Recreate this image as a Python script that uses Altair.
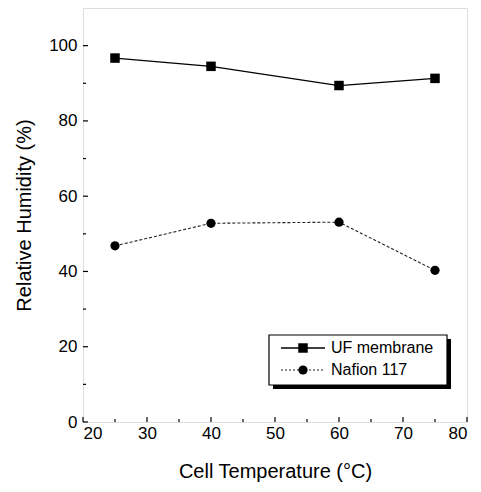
import altair as alt
import pandas as pd

temps = [25, 40, 60, 75]
uf_rh = [96.7, 94.5, 89.4, 91.3]
nafion_rh = [46.8, 52.8, 53.1, 40.3]

x_major = [20, 30, 40, 50, 60, 70, 80]
x_minor = [25, 35, 45, 55, 65, 75]
y_major = [0, 20, 40, 60, 80, 100]
y_minor = [10, 30, 50, 70, 90]

series_names = ["UF membrane", "Nafion 117"]

W, H = 384, 414
FONT = "Liberation Sans"

uf = pd.DataFrame({"T": temps, "RH": uf_rh})
naf = pd.DataFrame({"T": temps, "RH": nafion_rh})

xs = alt.Scale(domain=[20, 80], nice=False, zero=False)
ys = alt.Scale(domain=[0, 110], nice=False)

xax = alt.Axis(values=x_major, format="d", ticks=False, domain=False, grid=False,
               labelFontSize=17, labelFont=FONT, labelColor="black", labelPadding=3,
               title="Cell Temperature (°C)", titleFontSize=20, titleFont=FONT,
               titleFontWeight="normal", titleColor="black", titlePadding=20)
yax = alt.Axis(values=y_major, format="d", ticks=False, domain=False, grid=False,
               labelFontSize=17, labelFont=FONT, labelColor="black", labelPadding=6,
               title="Relative Humidity (%)", titleFontSize=20, titleFont=FONT,
               titleFontWeight="normal", titleColor="black", titlePadding=14)

base_x = alt.X("T:Q", scale=xs, axis=xax)
base_y = alt.Y("RH:Q", scale=ys, axis=yax)

uf_line = alt.Chart(uf).mark_line(color="black", strokeWidth=1.3).encode(x=base_x, y=base_y)
uf_pts = alt.Chart(uf).mark_point(shape="square", filled=True, color="black", size=90, opacity=1).encode(
    x=alt.X("T:Q", scale=xs), y=alt.Y("RH:Q", scale=ys))
naf_line = alt.Chart(naf).mark_line(color="#222", strokeWidth=1.1, strokeDash=[3, 2]).encode(
    x=alt.X("T:Q", scale=xs), y=alt.Y("RH:Q", scale=ys))
naf_pts = alt.Chart(naf).mark_point(shape="circle", filled=True, color="black", size=85, opacity=1).encode(
    x=alt.X("T:Q", scale=xs), y=alt.Y("RH:Q", scale=ys))

# inward ticks
xmaj_df = pd.DataFrame({"v": x_major})
xmin_df = pd.DataFrame({"v": x_minor})
ymaj_df = pd.DataFrame({"v": y_major})
ymin_df = pd.DataFrame({"v": y_minor})
tick_x_major = alt.Chart(xmaj_df).mark_rule(color="black", strokeWidth=1.2).encode(
    x=alt.X("v:Q", scale=xs), y=alt.value(H), y2=alt.value(H - 5))
tick_x_minor = alt.Chart(xmin_df).mark_rule(color="black", strokeWidth=1.2).encode(
    x=alt.X("v:Q", scale=xs), y=alt.value(H), y2=alt.value(H - 3))
tick_y_major = alt.Chart(ymaj_df).mark_rule(color="black", strokeWidth=1.2).encode(
    y=alt.Y("v:Q", scale=ys), x=alt.value(0), x2=alt.value(5))
tick_y_minor = alt.Chart(ymin_df).mark_rule(color="black", strokeWidth=1.2).encode(
    y=alt.Y("v:Q", scale=ys), x=alt.value(0), x2=alt.value(3))

# legend
lx0, ly0, lw, lh = 186, 327, 178, 50
leg_df = pd.DataFrame({"name": series_names})
shadow = alt.Chart(leg_df.head(1)).mark_rect(color="black").encode(
    x=alt.value(lx0 + 4), x2=alt.value(lx0 + lw + 4), y=alt.value(ly0 + 4), y2=alt.value(ly0 + lh + 4))
box = alt.Chart(leg_df.head(1)).mark_rect(fill="white", stroke="black", strokeWidth=1.2).encode(
    x=alt.value(lx0), x2=alt.value(lx0 + lw), y=alt.value(ly0), y2=alt.value(ly0 + lh))
leg_l1 = alt.Chart(leg_df.head(1)).mark_rule(color="black", strokeWidth=1.3).encode(
    x=alt.value(lx0 + 12), x2=alt.value(lx0 + 56), y=alt.value(ly0 + 13))
leg_l2 = alt.Chart(leg_df.head(1)).mark_rule(color="#222", strokeWidth=1.1, strokeDash=[2, 2]).encode(
    x=alt.value(lx0 + 12), x2=alt.value(lx0 + 56), y=alt.value(ly0 + 35))
leg_p1 = alt.Chart(leg_df.head(1)).mark_point(shape="square", filled=True, color="black", size=90, opacity=1).encode(
    x=alt.value(lx0 + 34), y=alt.value(ly0 + 13))
leg_p2 = alt.Chart(leg_df.head(1)).mark_point(shape="circle", filled=True, color="black", size=85, opacity=1).encode(
    x=alt.value(lx0 + 34), y=alt.value(ly0 + 35))
leg_t1 = alt.Chart(leg_df.head(1)).mark_text(align="left", baseline="middle", fontSize=16, font=FONT, color="black").encode(
    x=alt.value(lx0 + 62), y=alt.value(ly0 + 13), text=alt.value(series_names[0]))
leg_t2 = alt.Chart(leg_df.head(1)).mark_text(align="left", baseline="middle", fontSize=16, font=FONT, color="black").encode(
    x=alt.value(lx0 + 62), y=alt.value(ly0 + 35), text=alt.value(series_names[1]))

chart = alt.layer(
    uf_line, naf_line, uf_pts, naf_pts,
    tick_x_major, tick_x_minor, tick_y_major, tick_y_minor,
    shadow, box, leg_l1, leg_l2, leg_p1, leg_p2, leg_t1, leg_t2,
).properties(
    width=W, height=H,
    autosize=alt.AutoSizeParams(type="none"),
    padding={"left": 75, "top": 0, "right": 6, "bottom": 62},
).configure_view(stroke="black", strokeWidth=1.5).configure(background="white")

chart.save("out.html", embed_options={"renderer": "svg", "actions": False})
